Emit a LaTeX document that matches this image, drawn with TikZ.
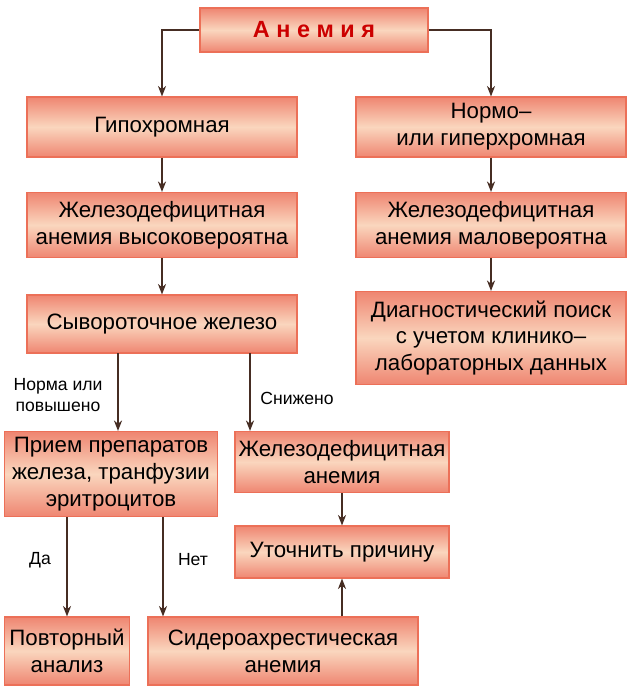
\documentclass[tikz,border=0pt]{standalone}
\usepackage{fontspec}
\setmainfont{Liberation Sans}
\usepackage{tikz}
\usetikzlibrary{arrows.meta}
\definecolor{boxred}{RGB}{236,112,88}
\definecolor{boxlight}{RGB}{250,214,190}
\definecolor{arr}{RGB}{70,45,35}
\tikzset{blk/.style={rectangle,draw=boxred,line width=1pt,top color=boxred!85,bottom color=boxred!85,middle color=boxlight,align=center,font=\fontsize{19}{23}\selectfont,inner sep=2pt},
  con/.style={-{Stealth[length=9pt,width=7pt]},arr,line width=1pt}}
\begin{document}
\begin{tikzpicture}[x=0.03cm,y=-0.03cm]
    \useasboundingbox (0,0) rectangle (636,692);
    \node[blk,minimum width=228*0.03cm,minimum height=44*0.03cm,font=\fontsize{20}{23}\selectfont\bfseries,text=red!80!black] (anemia) at (314,30) {А н е м и я};
    \node[blk,minimum width=270*0.03cm,minimum height=60*0.03cm] (hypo) at (162,127) {Гипохромная};
    \node[blk,minimum width=270*0.03cm,minimum height=60*0.03cm] (normo) at (491,127) {Нормо--\\или гиперхромная};
    \node[blk,minimum width=270*0.03cm,minimum height=65*0.03cm] (ida) at (162,225) {Железодефицитная\\анемия высоковероятна};
    \node[blk,minimum width=270*0.03cm,minimum height=65*0.03cm] (idb) at (491,225) {Железодефицитная\\анемия маловероятна};
    \node[blk,minimum width=270*0.03cm,minimum height=93*0.03cm] (diag) at (491,338) {Диагностический поиск\\с учетом клинико--\\лабораторных данных};
    \node[blk,minimum width=270*0.03cm,minimum height=58*0.03cm] (serum) at (162,324) {Сывороточное железо};
    \node[blk,minimum width=213*0.03cm,minimum height=85*0.03cm] (intake) at (111,474) {Прием препаратов\\железа, транфузии\\эритроцитов};
    \node[blk,minimum width=214*0.03cm,minimum height=61*0.03cm] (idc) at (342,462) {Железодефицитная\\анемия};
    \node[blk,minimum width=214*0.03cm,minimum height=52*0.03cm] (cause) at (342,552) {Уточнить причину};
    \node[blk,minimum width=125*0.03cm,minimum height=68*0.03cm] (repeat) at (67,651) {Повторный\\анализ};
    \node[blk,minimum width=270*0.03cm,minimum height=68*0.03cm] (sidero) at (283,651) {Сидероахрестическая\\анемия};

    \draw[con] (anemia.west) -| (hypo.north);
    \draw[con] (anemia.east) -| (normo.north);
    \draw[con] (hypo) -- (ida);
    \draw[con] (normo) -- (idb);
    \draw[con] (idb) -- (diag);
    \draw[con] (ida) -- (serum);
    \coordinate (s1) at (118,353);
    \coordinate (s2) at (250,353);
    \coordinate (i1) at (67,517);
    \coordinate (i2) at (163,517);
    \draw[con] (s1) -- (s1 |- intake.north);
    \draw[con] (s2) -- (s2 |- idc.north);
    \draw[con] (i1) -- (i1 |- repeat.north);
    \draw[con] (i2) -- (i2 |- sidero.north);
    \draw[con] (idc) -- (cause);
    \draw[con] (sidero.north -| cause) -- (cause.south);

    \node[align=center,font=\fontsize{15}{18}\selectfont] (lnorm) at (58,395) {Норма или\\повышено};
    \node[font=\fontsize{15}{18}\selectfont] (llow) at (297,398) {Снижено};
    \node[font=\fontsize{15}{18}\selectfont] (lyes) at (40,560) {Да};
    \node[font=\fontsize{15}{18}\selectfont] (lno) at (193,560) {Нет};
\end{tikzpicture}
\end{document}
